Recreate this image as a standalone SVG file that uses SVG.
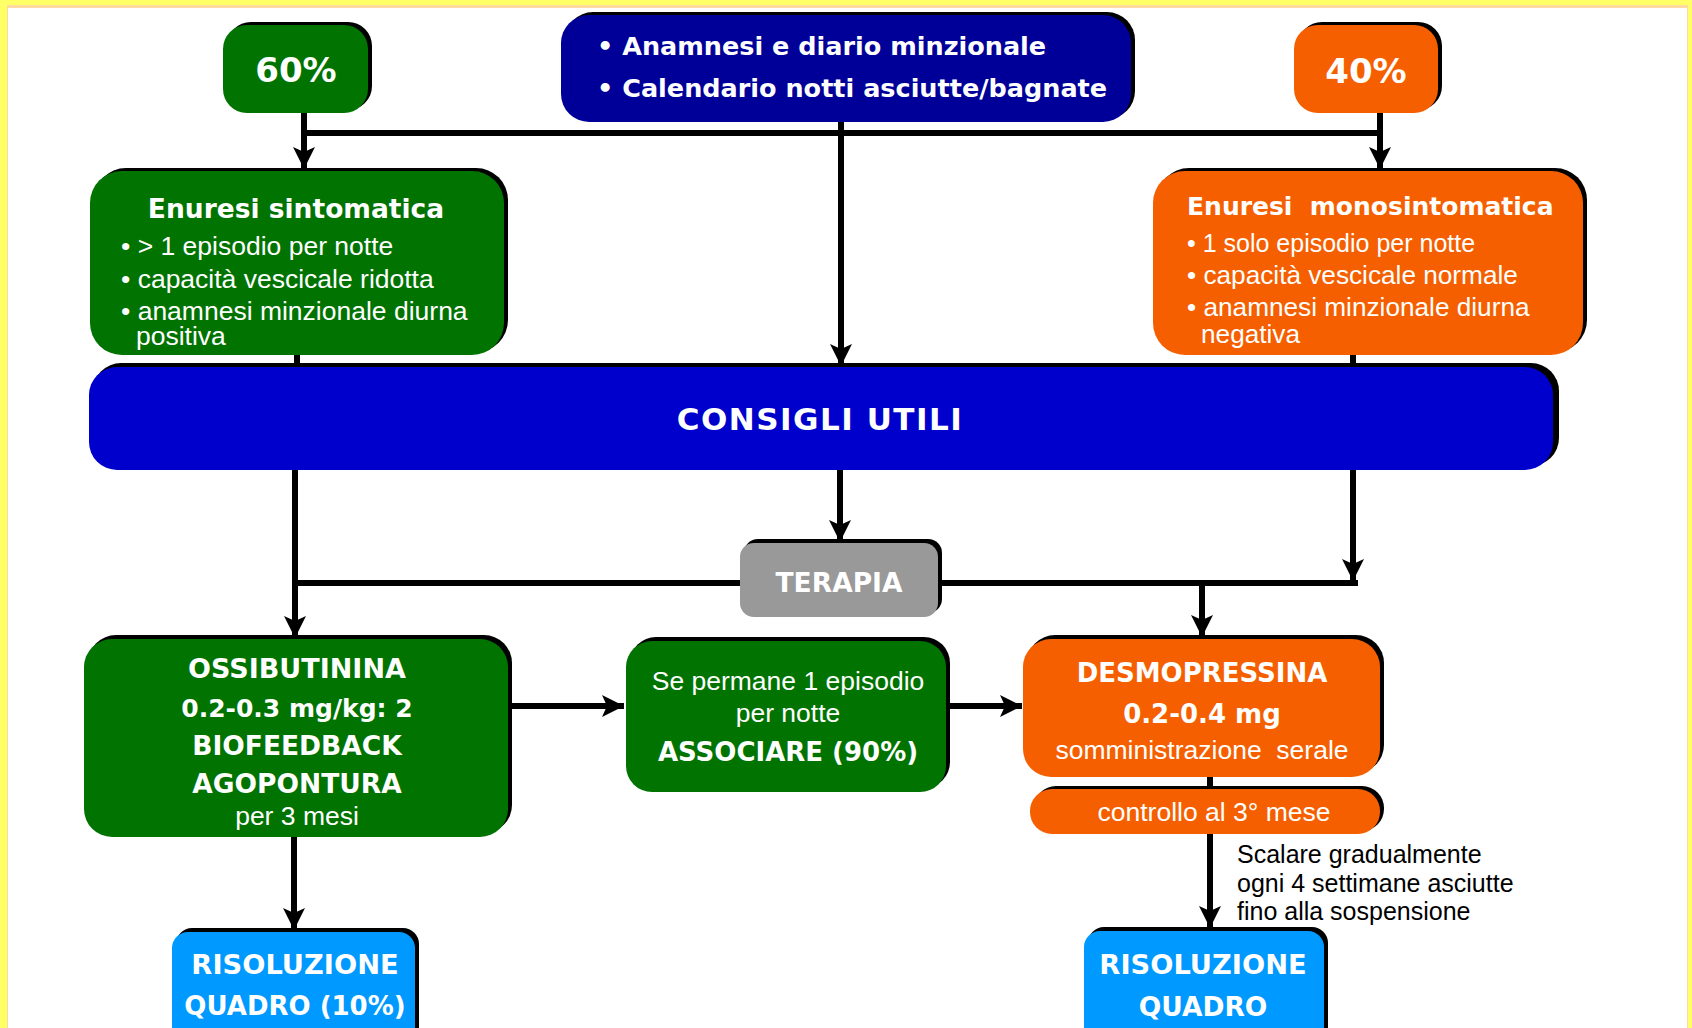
<svg xmlns="http://www.w3.org/2000/svg" width="1692" height="1028" viewBox="0 0 1692 1028">
<defs>
<marker id="ah" markerUnits="userSpaceOnUse" markerWidth="24" markerHeight="22" refX="22" refY="11" orient="auto" viewBox="0 0 24 22">
<path d="M0,0 L22,11 L0,22 L5,11 z" fill="#000"/>
</marker>
<style>
.sh{fill:#000}
.g{fill:#007300}
.o{fill:#f55f00}
.nb{fill:#000099}
.cb{fill:#0000cc}
.gr{fill:#999999}
.lb{fill:#0099ff}
.b{font-family:"DejaVu Sans",sans-serif;font-weight:bold;fill:#fff}
.r{font-family:"Liberation Sans",Arial,sans-serif;fill:#fff;font-size:26.5px}
.k{font-family:"Liberation Sans",Arial,sans-serif;fill:#000;font-size:25px}
.c{text-anchor:middle}
.ln{stroke:#000;stroke-width:6;fill:none}
.ar{stroke:#000;stroke-width:6;fill:none;marker-end:url(#ah)}
</style>
</defs>
<rect x="0" y="0" width="1692" height="1028" fill="#ffff66"/>
<rect x="7" y="5" width="1681" height="1030" fill="#ffd9a0"/>
<rect x="8" y="8" width="1679" height="1030" fill="#ffffff"/>

<g id="connectors">
<path class="ln" d="M304,133 H1380"/>
<path class="ar" d="M304,113 V169"/>
<path class="ar" d="M1380,113 V169"/>
<path class="ar" d="M841,122 V366"/>
<path class="ln" d="M297,354 V368"/>
<path class="ln" d="M1353,354 V368"/>
<path class="ar" d="M295,470 V638"/>
<path class="ln" d="M295,583 H742"/>
<path class="ar" d="M840,470 V542"/>
<path class="ar" d="M1353,470 V581"/>
<path class="ln" d="M940,583 H1358"/>
<path class="ar" d="M1202,580 V637"/>
<path class="ar" d="M512,706 H624"/>
<path class="ar" d="M948,706 H1022"/>
<path class="ln" d="M1210,776 V790"/>
<path class="ar" d="M1210,833 V928"/>
<path class="ar" d="M294,836 V930"/>
</g>

<g id="n60">
<rect class="sh" x="227" y="22" width="145" height="88" rx="24"/>
<rect class="g" x="223" y="25" width="145" height="88" rx="24"/>
<text class="b c" x="296" y="82" font-size="34">60%</text>
</g>

<g id="anamnesi">
<rect class="sh" x="565" y="12" width="570" height="107" rx="28"/>
<rect class="nb" x="561" y="15" width="570" height="107" rx="28"/>
<text class="b" x="597" y="55" font-size="25.5">• Anamnesi e diario minzionale</text>
<text class="b" x="597" y="97" font-size="25.5">• Calendario notti asciutte/bagnate</text>
</g>

<g id="n40">
<rect class="sh" x="1298" y="22" width="144" height="88" rx="24"/>
<rect class="o" x="1294" y="25" width="144" height="88" rx="24"/>
<text class="b c" x="1366" y="83" font-size="34">40%</text>
</g>

<g id="sintomatica">
<rect class="sh" x="94" y="168" width="414" height="184" rx="32"/>
<rect class="g" x="90" y="171" width="414" height="184" rx="32"/>
<text class="b c" x="296" y="218" font-size="26.5">Enuresi sintomatica</text>
<text class="r" x="121" y="255">• &gt; 1 episodio per notte</text>
<text class="r" x="121" y="288">• capacità vescicale ridotta</text>
<text class="r" x="121" y="320">• anamnesi minzionale diurna</text>
<text class="r" x="136" y="345">positiva</text>
</g>

<g id="monosintomatica">
<rect class="sh" x="1157" y="168" width="430" height="184" rx="32"/>
<rect class="o" x="1153" y="171" width="430" height="184" rx="32"/>
<text class="b" x="1187" y="215" font-size="25" xml:space="preserve">Enuresi  monosintomatica</text>
<text class="r" x="1187" y="252" style="font-size:25px">• 1 solo episodio per notte</text>
<text class="r" x="1187" y="284" style="font-size:26.2px">• capacità vescicale normale</text>
<text class="r" x="1187" y="316" style="font-size:26.2px">• anamnesi minzionale diurna</text>
<text class="r" x="1201" y="343" style="font-size:26.2px">negativa</text>
</g>

<g id="consigli">
<rect class="sh" x="93" y="363" width="1466" height="103" rx="28"/>
<rect class="cb" x="89" y="367" width="1464" height="103" rx="28"/>
<text class="b c" x="820" y="430" font-size="31" letter-spacing="1.5">CONSIGLI UTILI</text>
</g>

<g id="terapia">
<rect class="sh" x="744" y="539" width="198" height="74" rx="14"/>
<rect class="gr" x="740" y="543" width="198" height="74" rx="14"/>
<text class="b c" x="839" y="592" font-size="26.5">TERAPIA</text>
</g>

<g id="ossibutinina">
<rect class="sh" x="88" y="635" width="424" height="198" rx="28"/>
<rect class="g" x="84" y="639" width="424" height="198" rx="28"/>
<text class="b c" x="297" y="678" font-size="27">OSSIBUTININA</text>
<text class="b c" x="297" y="717" font-size="25">0.2-0.3 mg/kg: 2</text>
<text class="b c" x="297" y="755" font-size="26.5">BIOFEEDBACK</text>
<text class="b c" x="297" y="793" font-size="26.5">AGOPONTURA</text>
<text class="r c" x="297" y="825">per 3 mesi</text>
</g>

<g id="associare">
<rect class="sh" x="630" y="637" width="320" height="151" rx="26"/>
<rect class="g" x="626" y="641" width="320" height="151" rx="26"/>
<text class="r c" x="788" y="690">Se permane 1 episodio</text>
<text class="r c" x="788" y="722">per notte</text>
<text class="b c" x="788" y="761" font-size="26">ASSOCIARE (90%)</text>
</g>

<g id="desmopressina">
<rect class="sh" x="1027" y="635" width="357" height="138" rx="28"/>
<rect class="o" x="1023" y="639" width="357" height="138" rx="28"/>
<text class="b c" x="1202" y="682" font-size="26">DESMOPRESSINA</text>
<text class="b c" x="1202" y="723" font-size="26">0.2-0.4 mg</text>
<text class="r c" x="1202" y="759" xml:space="preserve">somministrazione  serale</text>
</g>

<g id="controllo">
<rect class="sh" x="1034" y="786" width="350" height="45" rx="22"/>
<rect class="o" x="1030" y="789" width="350" height="45" rx="22"/>
<text class="r c" x="1214" y="821">controllo al 3° mese</text>
</g>

<g id="scalare">
<text class="k" x="1237" y="863">Scalare gradualmente</text>
<text class="k" x="1237" y="892">ogni 4 settimane asciutte</text>
<text class="k" x="1237" y="920">fino alla sospensione</text>
</g>

<g id="risoluzione10">
<rect class="sh" x="176" y="928" width="243" height="120" rx="16"/>
<rect class="lb" x="172" y="932" width="243" height="120" rx="16"/>
<text class="b c" x="295" y="974" font-size="27.3">RISOLUZIONE</text>
<text class="b c" x="295" y="1015" font-size="26">QUADRO (10%)</text>
</g>

<g id="risoluzione">
<rect class="sh" x="1088" y="927" width="240" height="120" rx="16"/>
<rect class="lb" x="1084" y="931" width="240" height="120" rx="16"/>
<text class="b c" x="1203" y="974" font-size="27.3">RISOLUZIONE</text>
<text class="b c" x="1203" y="1016" font-size="26.5">QUADRO</text>
</g>
</svg>
